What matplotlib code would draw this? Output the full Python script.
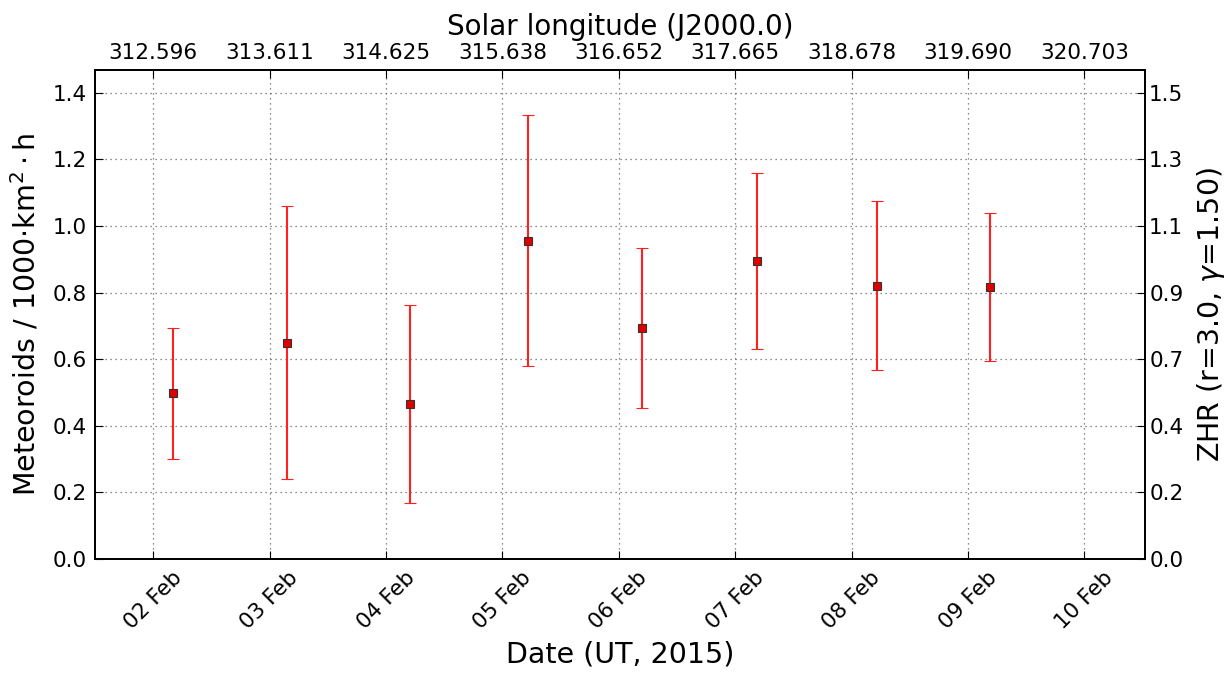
import datetime as dt

import matplotlib
matplotlib.use("Agg")
import matplotlib.pyplot as plt
import matplotlib.dates as mdates

# observation times (UT) and meteoroid flux
times = ["2015-02-02 04:08", "2015-02-03 03:32", "2015-02-04 05:02", "2015-02-05 05:21",
         "2015-02-06 04:48", "2015-02-07 04:34", "2015-02-08 05:10", "2015-02-09 04:34"]
flux = [0.498, 0.650, 0.466, 0.956, 0.694, 0.895, 0.821, 0.816]
flux_err = [0.197, 0.410, 0.297, 0.376, 0.240, 0.265, 0.253, 0.223]

tick_days = ["2015-02-02", "2015-02-03", "2015-02-04", "2015-02-05", "2015-02-06",
             "2015-02-07", "2015-02-08", "2015-02-09", "2015-02-10"]
solar_lon = ["312.596", "313.611", "314.625", "315.638", "316.652",
             "317.665", "318.678", "319.690", "320.703"]

y_ticks = [0.0, 0.2, 0.4, 0.6, 0.8, 1.0, 1.2, 1.4]
zhr_factor = 1.1

x = [dt.datetime.strptime(t, "%Y-%m-%d %H:%M") for t in times]
xt = [dt.datetime.strptime(t, "%Y-%m-%d") for t in tick_days]
x_lo = dt.datetime(2015, 2, 1, 12, 0)
x_hi = dt.datetime(2015, 2, 10, 12, 30)

fig = plt.figure(figsize=(12.3, 6.75), dpi=100)
ax = fig.add_axes([0.0772, 0.172, 0.8537, 0.724])

ax.errorbar(x, flux, yerr=flux_err, fmt="s", color="#ff2020", ecolor="#ff2020",
            markerfacecolor="#e00000", markeredgecolor="0.2", markeredgewidth=0.8,
            markersize=6, elinewidth=1.5, capsize=4.5, capthick=1.0, zorder=3)

ax.set_xlim(x_lo, x_hi)
ax.set_ylim(0, 1.468)
ax.set_xticks(xt)
ax.xaxis.set_major_formatter(mdates.DateFormatter("%d %b"))
ax.set_yticks(y_ticks)
ax.set_yticklabels([f"{v:.1f}" for v in y_ticks])
ax.grid(True, color="0.4", linestyle=(0, (1, 3)), linewidth=0.9)
ax.tick_params(direction="in", labelsize=15.5, length=6, width=0.8, pad=6)
for lab in ax.get_xticklabels():
    lab.set_rotation(45)
ax.set_xlabel("Date (UT, 2015)", fontsize=20.5, labelpad=6)
ax.set_ylabel(r"Meteoroids / 1000$\cdot$km$^2\cdot$h", fontsize=20.5, labelpad=8)

# top axis: solar longitude
axt = ax.twiny()
axt.set_xlim(x_lo, x_hi)
axt.set_xticks(xt)
axt.set_xticklabels(solar_lon)
axt.tick_params(direction="in", labelsize=15.5, length=6, width=0.8, pad=5)
axt.set_xlabel("Solar longitude (J2000.0)", fontsize=20, labelpad=6)

# right axis: ZHR
axr = ax.twinx()
axr.set_ylim(ax.get_ylim())
axr.set_yticks(y_ticks)
axr.set_yticklabels([f"{v * zhr_factor:.1f}" for v in y_ticks])
axr.tick_params(direction="in", labelsize=15.5, length=6, width=0.8, pad=3)
axr.set_ylabel(r"ZHR (r=3.0, $\gamma$=1.50)", fontsize=20.5, labelpad=8)

for a in (ax, axt, axr):
    for s in a.spines.values():
        s.set_linewidth(1.2)

fig.savefig("out.png", dpi=100, facecolor="white")
